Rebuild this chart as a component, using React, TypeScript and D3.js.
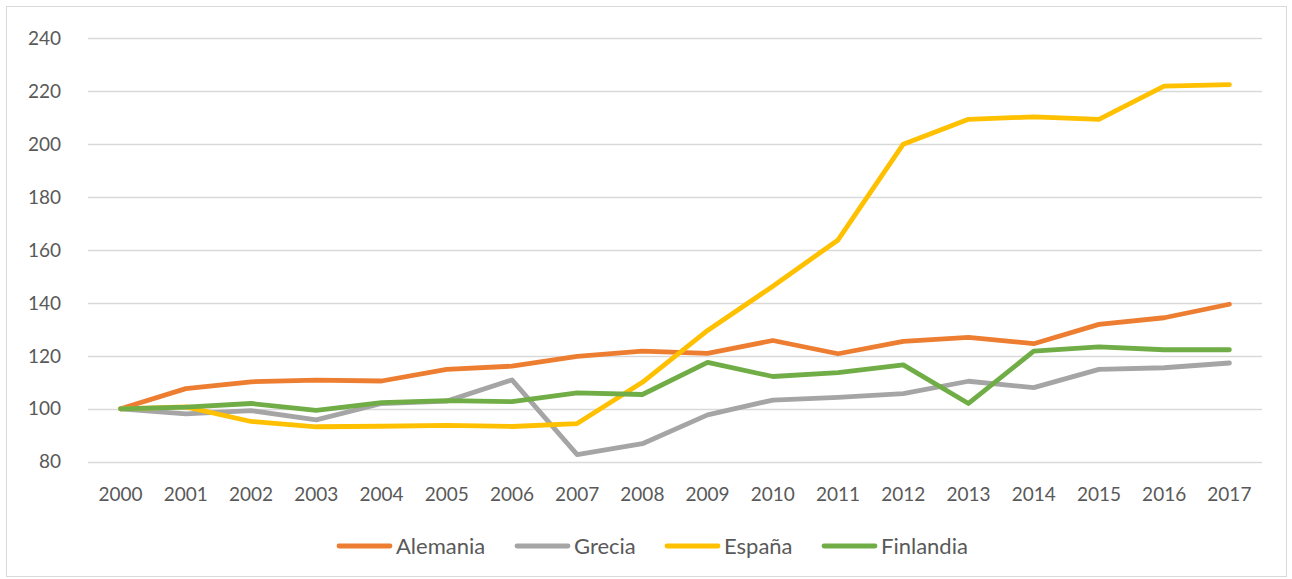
import React from "react";
import * as d3 from "d3";

const years = ["2000","2001","2002","2003","2004","2005","2006","2007","2008","2009","2010","2011","2012","2013","2014","2015","2016","2017"];
const alemania = [100,107.6,110.2,110.8,110.5,114.9,116.1,119.8,121.8,120.9,125.8,120.8,125.5,127.0,124.6,131.9,134.4,139.5];
const grecia = [100,98.1,99.3,95.8,102.0,102.9,110.9,82.7,86.8,97.7,103.3,104.3,105.7,110.4,108.0,114.9,115.5,117.3];
const espana = [100,100.7,95.2,93.2,93.4,93.7,93.3,94.4,110.0,129.6,146.3,163.8,200.0,209.4,210.3,209.4,221.9,222.5];
const finlandia = [100,100.6,102.0,99.4,102.3,103.1,102.7,106.0,105.4,117.5,112.2,113.7,116.6,102.0,121.8,123.4,122.3,122.3];
const yTicks = [80,100,120,140,160,180,200,220,240];
const seriesNames = ["Alemania","Grecia","España","Finlandia"];
const seriesColors = ["#ED7D31","#A5A5A5","#FFC000","#70AD47"];
const seriesData = [alemania, grecia, espana, finlandia];

const W = 1292, H = 579;
const FONT = "Lato, 'Open Sans', sans-serif";

export default function App() {
  const x = d3.scalePoint<string>().domain(years).range([88, 1262]).padding(0.5);
  const y = d3.scaleLinear().domain([80, 240]).range([461.7, 38.3]);
  const line = d3.line<number>()
    .x((_, i) => x(years[i]) as number)
    .y((d) => y(d));
  const legendX = [337, 515, 665, 822];
  return (
    <svg width={W} height={H} style={{ position: "absolute", left: 0, top: 0, background: "#fff" }} fontFamily={FONT}>
      <rect x={6.5} y={6.5} width={1280} height={570} fill="#fff" stroke="#D9D9D9" strokeWidth={1} />
      {yTicks.map((t) => (
        <g key={t}>
          <line x1={88} x2={1262} y1={Math.round(y(t)) + 0.5} y2={Math.round(y(t)) + 0.5} stroke="#D9D9D9" strokeWidth={1.3} />
          <text x={61} y={y(t)} dy="0.35em" textAnchor="end" fontSize={19} fill="#595959">{t}</text>
        </g>
      ))}
      {years.map((yr) => (
        <text key={yr} x={x(yr)} y={494} dy="0.35em" textAnchor="middle" fontSize={19} fill="#595959">{yr}</text>
      ))}
      {seriesData.map((d, i) => (
        <path key={seriesNames[i]} d={line(d) || ""} fill="none" stroke={seriesColors[i]} strokeWidth={4.8} strokeLinecap="round" strokeLinejoin="round" />
      ))}
      {seriesNames.map((n, i) => (
        <g key={n}>
          <line x1={legendX[i] + 2} x2={legendX[i] + 53} y1={546} y2={546} stroke={seriesColors[i]} strokeWidth={4.8} strokeLinecap="round" />
          <text x={legendX[i] + 59} y={546} dy="0.35em" fontSize={22} fill="#595959">{n}</text>
        </g>
      ))}
    </svg>
  );
}
